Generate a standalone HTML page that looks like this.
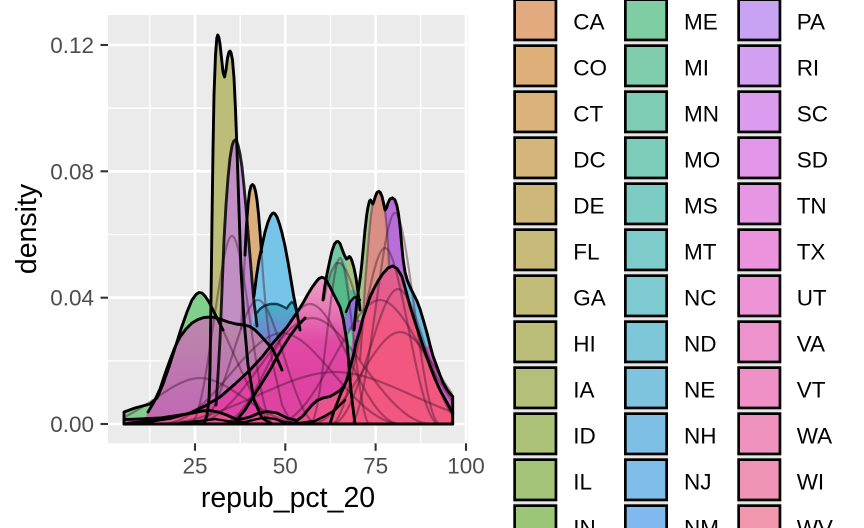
<!DOCTYPE html>
<html><head><meta charset="utf-8"><style>
html,body{margin:0;padding:0;background:#fff;}
svg{display:block;}
text{font-family:"Liberation Sans",Arial,sans-serif;}
</style></head><body>
<svg width="864" height="528" viewBox="0 0 864 528" xmlns="http://www.w3.org/2000/svg">
<defs>
<clipPath id="panel"><rect x="108" y="15" width="360" height="428.3"/></clipPath>
<clipPath id="data"><rect x="124" y="15" width="328.7" height="410"/></clipPath>
<linearGradient id="gPur" gradientUnits="userSpaceOnUse" x1="0" y1="140" x2="0" y2="320"><stop offset="0" stop-color="#d3a4ec"/><stop offset="1" stop-color="#b784c4"/></linearGradient>
<linearGradient id="gHump" gradientUnits="userSpaceOnUse" x1="0" y1="303" x2="0" y2="345"><stop offset="0" stop-color="#44b3c4"/><stop offset="1" stop-color="#7f7ad9"/></linearGradient>
<linearGradient id="gPlat" gradientUnits="userSpaceOnUse" x1="0" y1="320" x2="0" y2="405"><stop offset="0" stop-color="#b988ab"/><stop offset="1" stop-color="#c06cb2"/></linearGradient>
<linearGradient id="gPink" gradientUnits="userSpaceOnUse" x1="0" y1="277" x2="0" y2="370"><stop offset="0" stop-color="#f0a2c8"/><stop offset="0.35" stop-color="#e878b6"/><stop offset="0.7" stop-color="#e04aa4"/><stop offset="1" stop-color="#df43a2"/></linearGradient>
<linearGradient id="gRed" gradientUnits="userSpaceOnUse" x1="0" y1="266" x2="0" y2="335"><stop offset="0" stop-color="#dd5f95"/><stop offset="1" stop-color="#f2577f"/></linearGradient>
</defs>
<rect x="0" y="0" width="864" height="528" fill="#fff"/>
<rect x="108" y="15" width="360" height="428.3" fill="#ebebeb"/>
<g clip-path="url(#panel)">
<g stroke="#fff" stroke-width="1.3">
<line x1="149.9" y1="15" x2="149.9" y2="444"/><line x1="240.2" y1="15" x2="240.2" y2="444"/><line x1="330.5" y1="15" x2="330.5" y2="444"/><line x1="420.8" y1="15" x2="420.8" y2="444"/>
<line x1="108" y1="108.2" x2="468" y2="108.2"/><line x1="108" y1="234.5" x2="468" y2="234.5"/><line x1="108" y1="360.8" x2="468" y2="360.8"/>
</g>
<g stroke="#fff" stroke-width="2.6">
<line x1="195" y1="15" x2="195" y2="444"/><line x1="285.3" y1="15" x2="285.3" y2="444"/><line x1="375.6" y1="15" x2="375.6" y2="444"/><line x1="466" y1="15" x2="466" y2="444"/>
<line x1="108" y1="45" x2="468" y2="45"/><line x1="108" y1="171.3" x2="468" y2="171.3"/><line x1="108" y1="297.7" x2="468" y2="297.7"/><line x1="108" y1="424" x2="468" y2="424"/>
</g>

<path d="M204,424 L207,415 L209,400 L210,370 L211,300 L212,220 L213,150 L214,95 L215.5,55 L216.8,38 L217.7,35 L218.8,37 L220,44 L221.5,58 L223,72 L224.5,77 L226,70 L227.5,58 L229,52 L230,51 L231,52.5 L232.5,60 L234,78 L235.5,110 L237,150 L239,210 L241,270 L244,320 L248,365 L254,400 L262,418 L272,424 Z" fill="#bcbd78"/>
<path d="M238,424 L241,330 L243,290 L245,255 L246.5,225 L248,205 L249.5,192 L251,186 L252.5,184.5 L254,186 L255.5,191 L257,200 L258.5,214 L260,232 L261.5,252 L263,275 L266,310 L272,360 L282,405 L292,424 Z" fill="#dcaf7c"/>
<path d="M213,424 L216,405 L218,375 L220,340 L222,290 L224,240 L226,205 L228,178 L230,158 L232,146 L233.5,141.5 L235,140 L236.5,141 L238,145 L240,154 L242,167 L244,186 L246,208 L248,232 L250,256 L252,280 L254,302 L257,326 L262,355 L270,388 L282,412 L296,424 Z" fill="url(#gPur)"/>
<path d="M221,330 L223,270 L225,220 L227,190 L229,166 L231,151 L233,143 L235,140 L236.5,141.5 L237.2,150 L239,210 L241,270 L243,320 Z" fill="#c28fc5"/>
<path d="M250,424 L252,330 L254,296 L256.5,276 L259,260 L262,246 L265,232 L268,222 L270.5,216 L272.3,213.5 L273.5,213 L275,213.8 L277,217 L279.5,224 L282,233 L285,246 L288,262 L291,280 L293.5,295 L295.5,305 L297,313 L300,330 L305,360 L312,395 L320,424 Z" fill="#76c4e7"/>
<path d="M250,345 L253,325 L256.7,313 L260,309 L264,306 L270,304 L277,304 L282,306 L286.7,308.5 L289,305 L291.7,302 L294,304 L296,310 L298,322 L300,340 L300,424 L250,424 Z" fill="url(#gHump)"/>
<path d="M318,424 L321,330 L323,300 L325,285 L327,274 L329.5,262 L332,251 L334.5,244 L336.5,241.7 L338,241.5 L340,243.5 L342,249 L344.5,255.5 L346.5,259 L348,258 L349.3,256.5 L350.5,257.5 L352,261 L354,268 L356,278 L358,292 L360,310 L363,350 L366,424 Z" fill="#73c8a5"/>
<path d="M324,300 L327,285 L331,272 L336,263 L341,263 L346,270 L351,282 L356,298 L358,322 L324,322 Z" fill="#55b98a"/>
<path d="M346.5,259 L348,258 L349.3,256.5 L350.5,257.5 L352,261 L354,268 L356,278 L357,290 L350,290 L347,272 Z" fill="#a9c27d"/>
<path d="M342,330 L346,312 L350,302 L354,297.5 L357,297 L360,300 L362,310 L364,330 Z" fill="#8b78de"/>
<path d="M340,424 L347,385 L351,350 L354,330 L356.5,305 L358.5,290 L360.5,276 L362,262 L363.5,246 L365,230 L366.7,215 L368,207 L369.5,201 L370.5,200 L371.5,201.5 L372.8,204 L374,201 L375.5,196 L377,192.5 L378.7,191.3 L380.3,192.5 L382,196.5 L383.5,203 L385,210 L386.5,208 L388,203 L390,199 L392.5,197.8 L395,200 L397,206 L398.5,214 L400,226 L401.7,245 L403.2,260 L405,272 L407.5,281 L411,289 L414,295 L417,301 L420,309 L423,319 L427,333 L430,345 L433,356 L436.7,366 L440,375 L443,382.5 L447,389.5 L450,393.5 L452.7,396.5 L452.7,424 Z" fill="#c45cb8"/>
<path d="M356,320 L358.5,290 L360.5,276 L362,262 L363.5,246 L365,230 L366.7,215 L368,207 L369.5,201 L370.5,200 L371.5,201.5 L372.8,204 L371,215 L369,235 L367,260 L365,285 L363,320 Z" fill="#a3c585"/>
<path d="M363,320 L365,285 L367,260 L369,235 L371,215 L372.8,204 L374,201 L375.5,196 L377,192.5 L378.7,191.3 L380.3,192.5 L382,196.5 L383.5,203 L385,210 L386.5,225 L388,245 L389,266 L383,272 L373,290 L366.7,307 Z" fill="#d98f84"/>
<path d="M385,210 L386.5,208 L388,203 L390,199 L392.5,197.8 L395,200 L397,206 L398.5,214 L400,226 L401.7,245 L403.2,260 L405,272 L407.5,281 L404,285 L401.7,276 L397,268.5 L392.7,266 L389,266 L388,245 L386.5,225 Z" fill="#b86ed8"/>
<path d="M406,279 L411,289 L414,295 L417,301 L420,309 L423,319 L427,333 L430,345 L424,348 L420,337 L415,322 L410,307 L406,292 Z" fill="#6cbde0"/>
<path d="M124,424 L124,412 L135,408 L150,404 L157,398 L163,384 L169,367 L175,348 L181,329 L187,312 L192,300 L196,294.5 L199,292.5 L202,293 L205,296 L209,302 L213,310 L217,318 L223,330 L231,348 L241,370 L255,400 L270,424 Z" fill="#80cf8d"/>
<path d="M142,424 L148,412 L154,402 L160,389 L165,374 L170,360 L175,347 L180,337 L186,329 L192,323 L198,319.5 L204,317.5 L212,317 L220,319 L228,322 L236,324 L244,325 L250,326.5 L255,330 L260,335 L265,340.5 L269,345 L272,348 L276,356 L282,370 L292,395 L305,424 Z" fill="url(#gPlat)"/>
<path d="M124,424 L130,423 L153,421 L170,418.5 L190,413 L205,406 L220,397 L235,384 L250,370 L262,357 L273,343 L287,327 L296.7,313 L303,303 L308,294 L312,287.5 L316,282 L319,278.5 L321.7,277.3 L324,278 L326.5,280.5 L330,287 L335,297 L340,307 L343,318 L345,330 L347,342 L348,353 L349,367 L350,380 L352,400 L355,424 Z" fill="url(#gPink)"/>
<path d="M124,419.5 L140,419 L160,418 L176.7,415.5 L193,413 L202,411 L210,410.5 L218,412 L226.7,415 L236.7,419.5 L244,418.5 L250,417 L258,413.5 L267,411.5 L277,413 L287,418 L297,420.5 L303,416 L307,411 L312,405 L317,400.5 L323,398 L330,396.5 L336,393 L340,390.5 L344,386 L347,380 L347,424 L124,424 Z" fill="#ea5290"/>
<path d="M330,424 L334,411 L338,401 L341,393 L344,387 L346.7,380 L350,368 L353,357 L356,343 L360,330 L363,318 L366.7,307 L370,297 L373.5,289.5 L378,281 L383,273.5 L388,268 L392.7,266 L397,268.5 L401.7,276 L406,291 L410,306 L415,322 L420,337 L425,352 L430,366 L435,379 L440,390 L446,401 L452.7,413 L452.7,424 Z" fill="url(#gRed)"/>

<g clip-path="url(#data)" fill="none" stroke="rgba(70,20,50,0.42)" stroke-width="2.2">
<path d="M220,424 C256,424 283,304 310,304 C337,304 364,424 400,424"/>
<path d="M192,424 C240,424 276,318 312,318 C348,318 384,424 432,424"/>
<path d="M332,424 C358.4,424 378.2,289 398,289 C417.8,289 437.6,424 464,424"/>
<path d="M310,424 C346,424 373,332 400,332 C427,332 454,424 490,424"/>
<path d="M155,424 C227,424 281,372 335,372 C389,372 443,424 515,424"/>
<path d="M162,424 C210,424 246,333 282,333 C318,333 354,424 402,424"/>
<path d="M190,424 C206.8,424 219.4,236 232,236 C244.6,236 257.2,424 274,424"/>
<path d="M95,424 C137,424 168.5,378 200,378 C231.5,378 263,424 305,424"/>
<path d="M331,424 C352.6,424 368.8,248 385,248 C401.2,248 417.4,424 439,424"/>
<path d="M275,424 C317,424 348.5,300 380,300 C411.5,300 443,424 485,424"/>
<path d="M198,424 C222,424 240,300 258,300 C276,300 294,424 318,424"/>
<path d="M350,424 C368,424 381.5,213 395,213 C408.5,213 422,424 440,424"/>
<path d="M310,424 C322,424 331,258 340,258 C349,258 358,424 370,424"/>
<path d="M241,330 L243,290 L245,255"/>
<path d="M261.5,252 L263,275 L266,310 L272,360 L282,405 L292,424"/>
<path d="M223,330 L231,348 L241,370 L255,400 L270,424"/>
<path d="M372.8,204 L371,215 L369,235 L367,260 L365,285 L363,320 L360,360"/>
<path d="M378.7,191.3 L382,196.5 L384.5,205 L386.5,225 L388,245 L389,266"/>
<path d="M324,300 L327,285 L331,272 L336,263 L341,263 L346,270 L351,282 L356,298 L358,322"/>
</g>

<g fill="none" stroke="#000" stroke-width="2.9" stroke-linejoin="round" stroke-linecap="round">
<path d="M204,424 L207,415 L209,400 L210,370 L211,300 L212,220 L213,150 L214,95 L215.5,55 L216.8,38 L217.7,35 L218.8,37 L220,44 L221.5,58 L223,72 L224.5,77 L226,70 L227.5,58 L229,52 L230,51 L231,52.5 L232.5,60 L234,78 L235.5,110 L237,150 L239,210 L241,270 L244,320 L248,365 L254,400 L262,418 L272,424"/>
<path d="M216,405 L218,375 L220,340 L222,290 L224,240 L226,205 L228,178 L230,158 L232,146 L233.5,141.5 L235,140 L236.5,141 L238,145 L240,154 L242,167 L244,186 L246,208 L248,232 L250,256 L252,280 L254,302 L257,326" stroke="rgba(0,0,0,0.85)"/>
<path d="M245,255 L246.5,225 L248,205 L249.5,192 L251,186 L252.5,184.5 L254,186 L255.5,191 L257,200 L258.5,214 L260,232 L261.5,252"/>
<path d="M254,296 L256.5,276 L259,260 L262,246 L265,232 L268,222 L270.5,216 L272.3,213.5 L273.5,213 L275,213.8 L277,217 L279.5,224 L282,233 L285,246 L288,262 L291,280 L293.5,295 L295.5,305 L297,313 L300,330"/>
<path d="M256.7,313 L260,309 L264,306 L270,304 L277,304 L282,306 L286.7,308.5 L289,305 L291.7,302 L294,304 L296,310" stroke="rgba(0,30,50,0.8)" stroke-width="2.4"/>
<path d="M323,300 L325,285 L327,274 L329.5,262 L332,251 L334.5,244 L336.5,241.7 L338,241.5 L340,243.5 L342,249 L344.5,255.5 L346.5,259 L348,258 L349.3,256.5 L350.5,257.5 L352,261 L354,268 L356,278 L358,292 L360,310"/>
<path d="M346,312 L350,302 L354,297.5 L357,297 L360,300" stroke-width="2.4"/>
<path d="M354,330 L356.5,305 L358.5,290 L360.5,276 L362,262 L363.5,246 L365,230 L366.7,215 L368,207 L369.5,201 L370.5,200 L371.5,201.5 L372.8,204 L374,201 L375.5,196 L377,192.5 L378.7,191.3 L380.3,192.5 L382,196.5 L383.5,203 L385,210 L386.5,208 L388,203 L390,199 L392.5,197.8 L395,200 L397,206 L398.5,214 L400,226 L401.7,245 L403.2,260 L405,272 L407.5,281 L411,289 L414,295 L417,301 L420,309 L423,319 L427,333 L430,345 L433,356 L436.7,366 L440,375 L443,382.5 L447,389.5 L450,393.5 L452.7,396.5 L452.7,424"/>
<path d="M406,292 L410,307 L415,322 L420,337 L424,348" stroke="rgba(0,0,0,0.7)" stroke-width="2.4"/>
<path d="M124,424 L124,412 L135,408 L150,404 L157,398 L163,384 L169,367 L175,348 L181,329 L187,312 L192,300 L196,294.5 L199,292.5 L202,293 L205,296 L209,302 L213,310 L217,318 L223,330"/>
<path d="M148,412 L154,402 L160,389 L165,374 L170,360 L175,347 L180,337 L186,329 L192,323 L198,319.5 L204,317.5 L212,317 L220,319 L228,322 L236,324 L244,325 L250,326.5 L255,330 L260,335 L265,340.5 L269,345 L272,348 L276,356 L282,370"/>
<path d="M124,424 L130,423 L153,421 L170,418.5 L190,413 L205,406 L220,397 L235,384 L250,370 L262,357 L273,343 L287,327 L296.7,313 L303,303 L308,294 L312,287.5 L316,282 L319,278.5 L321.7,277.3 L324,278 L326.5,280.5 L330,287 L335,297 L340,307 L343,318 L345,330 L347,342 L348,353 L349,367 L350,380 L352,400 L355,424"/>
<path d="M236.7,420 L245,410 L253,397 L262,383 L270,370 L277,357 L283,347 L290,336 L296.7,327 L305,318"/>
<path d="M124,419.5 L140,419 L160,418 L176.7,415.5 L193,413 L202,411 L210,410.5 L218,412 L226.7,415 L236.7,419.5 L244,418.5 L250,417 L258,413.5 L267,411.5 L277,413 L287,418 L297,420.5 L303,416 L307,411 L312,405 L317,400.5 L323,398 L330,396.5 L336,393 L340,390.5 L344,386 L347,380"/>
<path d="M180,423 L200,421 L215,419 L230,421.5 L245,422 L255,419.5 L265,417.5 L275,419 L285,422.5 L300,423 L315,421 L325,416 L335,410 L345,400" stroke-width="2.4"/>
<path d="M330,424 L334,411 L338,401 L341,393 L344,387 L346.7,380 L350,368 L353,357 L356,343 L360,330 L363,318 L366.7,307 L370,297 L373.5,289.5 L378,281 L383,273.5 L388,268 L392.7,266 L397,268.5 L401.7,276 L406,291 L410,306 L415,322 L420,337 L425,352 L430,366 L435,379 L440,390 L446,401 L452.7,413"/>
<line x1="124" y1="424" x2="452.7" y2="424" stroke-width="3"/>
</g>
</g>

<g stroke="#333" stroke-width="2.1">
<line x1="100.5" y1="45" x2="108" y2="45"/><line x1="100.5" y1="171.3" x2="108" y2="171.3"/><line x1="100.5" y1="297.7" x2="108" y2="297.7"/><line x1="100.5" y1="424" x2="108" y2="424"/>
<line x1="195" y1="443.3" x2="195" y2="450.8"/><line x1="285.3" y1="443.3" x2="285.3" y2="450.8"/><line x1="375.6" y1="443.3" x2="375.6" y2="450.8"/><line x1="466" y1="443.3" x2="466" y2="450.8"/>
</g>
<g fill="#4d4d4d" font-size="22.5">
<text x="94" y="53" text-anchor="end">0.12</text>
<text x="94" y="179.3" text-anchor="end">0.08</text>
<text x="94" y="305.7" text-anchor="end">0.04</text>
<text x="94" y="432" text-anchor="end">0.00</text>
<text x="195" y="473.5" text-anchor="middle">25</text>
<text x="285.3" y="473.5" text-anchor="middle">50</text>
<text x="375.6" y="473.5" text-anchor="middle">75</text>
<text x="466" y="473.5" text-anchor="middle">100</text>
</g>
<text x="288" y="507" text-anchor="middle" font-size="28.5" fill="#000">repub_pct_20</text>
<text transform="translate(36,229) rotate(-90)" text-anchor="middle" font-size="28.5" fill="#000">density</text>

<g fill="#e6e6e6">
<rect x="513.3" y="0" width="44" height="528"/>
<rect x="624" y="0" width="44" height="528"/>
<rect x="737.3" y="0" width="44" height="528"/>
</g>
<g stroke="#000" stroke-width="2.7">
<rect x="514.65" y="-0.35" width="41.3" height="40.3" fill="#e3a97f"/>
<rect x="514.65" y="45.65" width="41.3" height="40.3" fill="#dfaf7a"/>
<rect x="514.65" y="91.65" width="41.3" height="40.3" fill="#dab27a"/>
<rect x="514.65" y="137.65" width="41.3" height="40.3" fill="#d4b57a"/>
<rect x="514.65" y="183.65" width="41.3" height="40.3" fill="#ceb879"/>
<rect x="514.65" y="229.65" width="41.3" height="40.3" fill="#c8ba79"/>
<rect x="514.65" y="275.65" width="41.3" height="40.3" fill="#c2bc79"/>
<rect x="514.65" y="321.65" width="41.3" height="40.3" fill="#bbbe79"/>
<rect x="514.65" y="367.65" width="41.3" height="40.3" fill="#b4c079"/>
<rect x="514.65" y="413.65" width="41.3" height="40.3" fill="#acc279"/>
<rect x="514.65" y="459.65" width="41.3" height="40.3" fill="#a4c479"/>
<rect x="514.65" y="505.65" width="41.3" height="40.3" fill="#9bc678"/>

<rect x="625.35" y="-0.35" width="41.3" height="40.3" fill="#7fcea3"/>
<rect x="625.35" y="45.65" width="41.3" height="40.3" fill="#7fcdac"/>
<rect x="625.35" y="91.65" width="41.3" height="40.3" fill="#7ecdb4"/>
<rect x="625.35" y="137.65" width="41.3" height="40.3" fill="#7dcdbb"/>
<rect x="625.35" y="183.65" width="41.3" height="40.3" fill="#7dccc3"/>
<rect x="625.35" y="229.65" width="41.3" height="40.3" fill="#7dcbca"/>
<rect x="625.35" y="275.65" width="41.3" height="40.3" fill="#7ecad1"/>
<rect x="625.35" y="321.65" width="41.3" height="40.3" fill="#7ec7d9"/>
<rect x="625.35" y="367.65" width="41.3" height="40.3" fill="#7ec4df"/>
<rect x="625.35" y="413.65" width="41.3" height="40.3" fill="#7ec0e5"/>
<rect x="625.35" y="459.65" width="41.3" height="40.3" fill="#7fbdea"/>
<rect x="625.35" y="505.65" width="41.3" height="40.3" fill="#80b8ef"/>

<rect x="738.65" y="-0.35" width="41.3" height="40.3" fill="#c9a3f3"/>
<rect x="738.65" y="45.65" width="41.3" height="40.3" fill="#d39ff1"/>
<rect x="738.65" y="91.65" width="41.3" height="40.3" fill="#db9bee"/>
<rect x="738.65" y="137.65" width="41.3" height="40.3" fill="#e297ea"/>
<rect x="738.65" y="183.65" width="41.3" height="40.3" fill="#e796e4"/>
<rect x="738.65" y="229.65" width="41.3" height="40.3" fill="#eb94dd"/>
<rect x="738.65" y="275.65" width="41.3" height="40.3" fill="#ed93d6"/>
<rect x="738.65" y="321.65" width="41.3" height="40.3" fill="#ee92ce"/>
<rect x="738.65" y="367.65" width="41.3" height="40.3" fill="#ef91c6"/>
<rect x="738.65" y="413.65" width="41.3" height="40.3" fill="#f092be"/>
<rect x="738.65" y="459.65" width="41.3" height="40.3" fill="#f094b5"/>
<rect x="738.65" y="505.65" width="41.3" height="40.3" fill="#f097ad"/>
</g>
<g fill="#000" font-size="22.5">
<text x="573.3" y="29.3">CA</text><text x="573.3" y="75.3">CO</text><text x="573.3" y="121.3">CT</text><text x="573.3" y="167.3">DC</text><text x="573.3" y="213.3">DE</text><text x="573.3" y="259.3">FL</text><text x="573.3" y="305.3">GA</text><text x="573.3" y="351.3">HI</text><text x="573.3" y="397.3">IA</text><text x="573.3" y="443.3">ID</text><text x="573.3" y="489.3">IL</text><text x="573.3" y="535.3">IN</text>
<text x="684" y="29.3">ME</text><text x="684" y="75.3">MI</text><text x="684" y="121.3">MN</text><text x="684" y="167.3">MO</text><text x="684" y="213.3">MS</text><text x="684" y="259.3">MT</text><text x="684" y="305.3">NC</text><text x="684" y="351.3">ND</text><text x="684" y="397.3">NE</text><text x="684" y="443.3">NH</text><text x="684" y="489.3">NJ</text><text x="684" y="535.3">NM</text>
<text x="796.7" y="29.3">PA</text><text x="796.7" y="75.3">RI</text><text x="796.7" y="121.3">SC</text><text x="796.7" y="167.3">SD</text><text x="796.7" y="213.3">TN</text><text x="796.7" y="259.3">TX</text><text x="796.7" y="305.3">UT</text><text x="796.7" y="351.3">VA</text><text x="796.7" y="397.3">VT</text><text x="796.7" y="443.3">WA</text><text x="796.7" y="489.3">WI</text><text x="796.7" y="535.3">WV</text>
</g>
</svg>
</body></html>
